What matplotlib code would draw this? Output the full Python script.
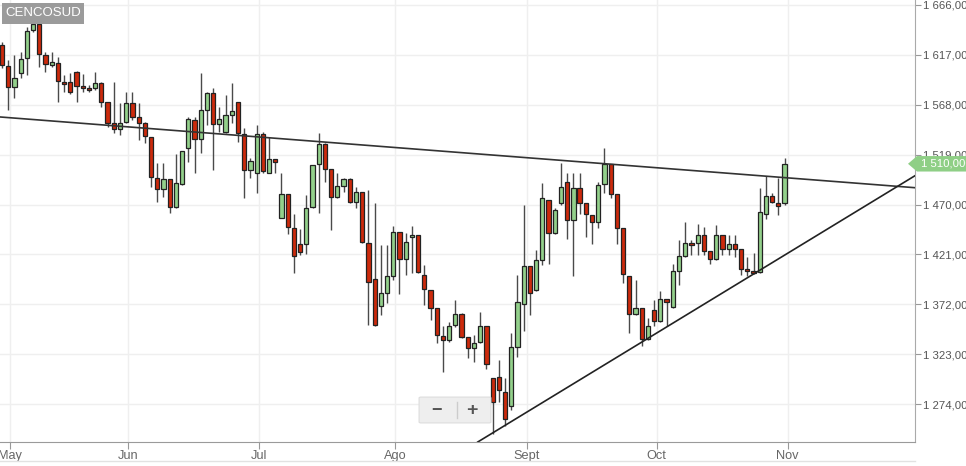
import matplotlib

matplotlib.use("Agg")
import matplotlib.pyplot as plt
from matplotlib.patches import Polygon, Rectangle, FancyBboxPatch
from matplotlib.transforms import blended_transform_factory

plt.rcParams["font.family"] = ["Liberation Sans", "DejaVu Sans"]

# ---------------------------------------------------------------------------
# Data, one candle per trading day
# ---------------------------------------------------------------------------
opens = [
    1627, 1606, 1585, 1599, 1614, 1641, 1647, 1617, 1607, 1609,
    1590, 1590, 1600, 1586, 1584, 1584, 1589, 1571, 1550, 1544,
    1551, 1570, 1556, 1550, 1536, 1496, 1485, 1495, 1468, 1490,
    1526, 1553, 1534, 1563, 1580, 1549, 1541, 1558, 1571, 1539,
    1504, 1501, 1539, 1501, 1515, 1457, 1480, 1447, 1431, 1431,
    1468, 1510, 1529, 1505, 1477, 1488, 1495, 1472, 1482, 1432,
    1397, 1370, 1383, 1400, 1443, 1416, 1438, 1440, 1401, 1386,
    1368, 1341, 1337, 1352, 1362, 1340, 1329, 1335, 1351, 1300,
    1301, 1286, 1272, 1330, 1372, 1410, 1386, 1415, 1474, 1442,
    1471, 1492, 1455, 1486, 1471, 1460, 1453, 1490, 1510, 1480,
    1447, 1400, 1362, 1368, 1338, 1366, 1356, 1377, 1369, 1405,
    1419, 1432, 1432, 1440, 1424, 1416, 1440, 1426, 1431, 1426,
    1407, 1405, 1404, 1461, 1478, 1471, 1471,
]
highs = [
    1630, 1612, 1617, 1620, 1644, 1656, 1653, 1620, 1620, 1615,
    1597, 1599, 1601, 1598, 1587, 1600, 1590, 1571, 1590, 1570,
    1581, 1581, 1570, 1551, 1536, 1511, 1511, 1495, 1520, 1523,
    1556, 1556, 1599, 1581, 1584, 1566, 1578, 1589, 1571, 1545,
    1516, 1548, 1541, 1536, 1515, 1501, 1480, 1461, 1446, 1479,
    1509, 1540, 1530, 1505, 1501, 1496, 1496, 1487, 1482, 1484,
    1471, 1430, 1430, 1449, 1443, 1442, 1449, 1440, 1411, 1386,
    1368, 1351, 1355, 1376, 1363, 1340, 1342, 1364, 1351, 1300,
    1317, 1300, 1344, 1401, 1470, 1410, 1425, 1491, 1474, 1467,
    1511, 1501, 1501, 1501, 1471, 1460, 1492, 1526, 1510, 1480,
    1447, 1400, 1396, 1368, 1359, 1376, 1385, 1377, 1412, 1435,
    1453, 1435, 1451, 1448, 1424, 1450, 1440, 1440, 1440, 1426,
    1418, 1422, 1486, 1498, 1481, 1496, 1516,
]
lows = [
    1604, 1563, 1575, 1594, 1597, 1639, 1605, 1600, 1605, 1571,
    1581, 1579, 1571, 1581, 1581, 1582, 1566, 1546, 1540, 1538,
    1550, 1553, 1533, 1530, 1487, 1472, 1477, 1462, 1467, 1489,
    1512, 1501, 1521, 1548, 1504, 1541, 1540, 1550, 1531, 1476,
    1496, 1481, 1501, 1501, 1501, 1457, 1441, 1403, 1420, 1421,
    1467, 1462, 1492, 1445, 1476, 1482, 1471, 1467, 1432, 1352,
    1351, 1361, 1373, 1396, 1382, 1401, 1403, 1403, 1371, 1357,
    1334, 1305, 1335, 1350, 1339, 1319, 1315, 1334, 1308, 1245,
    1276, 1252, 1268, 1320, 1346, 1361, 1385, 1411, 1412, 1441,
    1470, 1436, 1400, 1461, 1438, 1431, 1447, 1481, 1476, 1431,
    1393, 1344, 1361, 1331, 1337, 1351, 1355, 1351, 1368, 1391,
    1418, 1420, 1420, 1420, 1412, 1415, 1420, 1420, 1418, 1401,
    1400, 1402, 1403, 1456, 1471, 1460, 1470,
]
closes = [
    1607, 1585, 1594, 1613, 1640, 1647, 1618, 1608, 1610, 1591,
    1588, 1581, 1586, 1584, 1582, 1589, 1571, 1550, 1544, 1550,
    1570, 1556, 1550, 1537, 1497, 1485, 1495, 1468, 1491, 1523,
    1554, 1534, 1563, 1580, 1549, 1554, 1558, 1562, 1540, 1504,
    1513, 1539, 1503, 1515, 1512, 1480, 1448, 1419, 1423, 1467,
    1509, 1529, 1505, 1477, 1488, 1495, 1472, 1482, 1433, 1394,
    1352, 1383, 1400, 1443, 1416, 1433, 1440, 1404, 1387, 1368,
    1342, 1337, 1351, 1362, 1340, 1329, 1334, 1351, 1313, 1276,
    1288, 1259, 1330, 1374, 1410, 1383, 1415, 1476, 1442, 1465,
    1487, 1455, 1486, 1471, 1461, 1453, 1489, 1510, 1480, 1447,
    1402, 1362, 1368, 1338, 1351, 1356, 1377, 1374, 1405, 1419,
    1432, 1430, 1440, 1424, 1416, 1440, 1426, 1431, 1426, 1407,
    1405, 1403, 1463, 1478, 1472, 1469, 1510,
]

month_labels = ["May", "Jun", "Jul", "Ago", "Sept", "Oct", "Nov"]
month_pos = [1.29, 20.3, 41.3, 63.3, 84.5, 105.4, 126.5]
price_ticks = [1274, 1323, 1372, 1421, 1470, 1519, 1568, 1617, 1666]

# trend lines: (x0, x1), (y0, y1) in candle index / price
resistance = ([-0.32, 147.0], [1556.0, 1486.5])
support = ([76.6, 147.0], [1236.7, 1498.3])

last_price = 1510
last_price_label = "1 510,000"
ticker = "CENCOSUD"

UP_COLOR = "#93d08b"
DOWN_COLOR = "#cc2a0c"
W, H = 966, 466


def fmt_price(v):
    return f"{v:,.2f}".replace(",", " ").replace(".", ",")


fig = plt.figure(figsize=(W / 100, H / 100), dpi=100)
fig.patch.set_facecolor("white")
ax = fig.add_axes([0, 24 / H, 915 / W, 442 / H])
ax.set_facecolor("white")

xs = list(range(len(opens)))
ax.vlines(xs, lows, highs, color="#4a4a4a", linewidth=1.0, zorder=3)
bottoms = [min(o, c) for o, c in zip(opens, closes)]
heights = [max(abs(c - o), 1.5) for o, c in zip(opens, closes)]
colors = [UP_COLOR if c >= o else DOWN_COLOR for o, c in zip(opens, closes)]
ax.bar(xs, heights, bottom=bottoms, width=0.68, color=colors,
       edgecolor="#222222", linewidth=0.9, zorder=4)

ax.plot(*resistance, color="#333333", linewidth=1.2, zorder=5)
ax.plot(*support, color="#222222", linewidth=1.2, zorder=5)

ax.set_xlim(-0.32, 147.0)
ax.set_ylim(1236.7, 1670.9)

ax.set_xticks(month_pos)
ax.set_xticklabels(month_labels)
ax.set_yticks(price_ticks)
ax.set_yticklabels([fmt_price(v) for v in price_ticks])
ax.yaxis.tick_right()
ax.tick_params(axis="y", length=4, width=0.8, color="#999999", pad=2,
               labelsize=8.2, labelcolor="#555555")
ax.tick_params(axis="x", length=5, width=0.8, color="#999999", pad=1,
               labelsize=9.2, labelcolor="#666666")
ax.grid(True, color="#efefef", linewidth=1.0, zorder=0)
ax.set_axisbelow(True)

for side in ("top", "left"):
    ax.spines[side].set_visible(False)
ax.spines["bottom"].set_color("#9a9a9a")
ax.spines["right"].set_color("#aaaaaa")

# last price tag (cut by the right edge, as in the source)
trans = blended_transform_factory(fig.transFigure, ax.transData)
tag = Polygon([(908 / W, last_price), (917 / W, last_price + 7.6),
               (1.0, last_price + 7.6), (1.0, last_price - 7.6),
               (917 / W, last_price - 7.6)], closed=True,
              facecolor="#8fcf86", edgecolor="none", transform=trans,
              clip_on=False, zorder=10)
ax.add_patch(tag)
ax.text(921 / W, last_price, last_price_label, transform=trans, color="white",
        fontsize=8.2, va="center", ha="left", clip_on=False, zorder=11)

# ticker box
fig.patches.append(Rectangle((2 / W, 1 - 24 / H), 82 / W, 21 / H,
                             transform=fig.transFigure, facecolor="#9b9b9b",
                             edgecolor="none", zorder=10))
fig.text(5 / W, 1 - 13.5 / H, ticker, color="white", fontsize=9.5,
         va="center", ha="left", zorder=11)

# zoom control
fig.patches.append(FancyBboxPatch((421 / W, 1 - 422 / H), 68 / W, 24 / H,
                                  boxstyle="round,pad=0.002",
                                  transform=fig.transFigure,
                                  facecolor="#eeeeee", edgecolor="#dddddd",
                                  linewidth=0.8, zorder=10))
fig.text(437 / W, 1 - 410 / H, "\u2212", color="#555555", fontsize=13,
         fontweight="bold", va="center", ha="center", zorder=11)
fig.text(472 / W, 1 - 410 / H, "+", color="#555555", fontsize=14,
         fontweight="bold", va="center", ha="center", zorder=11)
fig.lines.append(plt.Line2D([457 / W, 457 / W], [1 - 402 / H, 1 - 418 / H],
                            transform=fig.transFigure, color="#cccccc",
                            linewidth=1.0, zorder=11))

# faint scroller line under the axis labels
fig.lines.append(plt.Line2D([0, 915 / W], [1 - 461 / H, 1 - 461 / H],
                            transform=fig.transFigure, color="#e2e2e2",
                            linewidth=1.0))

fig.savefig("out.png", dpi=100)
